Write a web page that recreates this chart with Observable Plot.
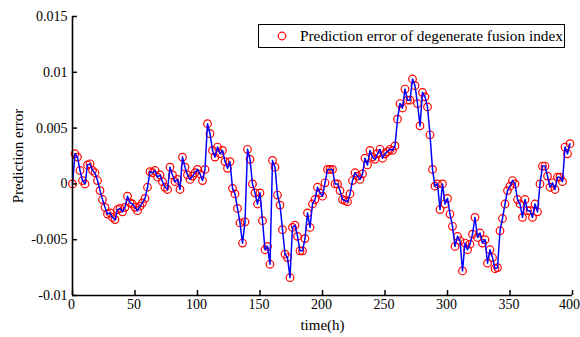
<!DOCTYPE html>
<html><head><meta charset="utf-8">
<script src="https://cdn.jsdelivr.net/npm/d3@7"></script>
<script src="https://cdn.jsdelivr.net/npm/@observablehq/plot@0.6"></script>
<style>
html,body{margin:0;padding:0;background:#fff;}
#wrap{position:relative;width:580px;height:337px;overflow:hidden;}
.legend{position:absolute;left:258px;top:24px;width:307px;height:24px;border:1px solid #000;background:#fff;box-sizing:border-box;font-family:"Liberation Serif","Times New Roman",serif;font-size:15.3px;color:#000;}
.legend svg{position:absolute;left:17px;top:5px;}
.legend span{position:absolute;left:41px;top:2px;white-space:nowrap;}
</style></head><body><div id="wrap"></div>
<script>
const hours = [
  0,2,4,6,8,10,12,14,16,18,
  20,22,24,26,28,30,32,34,36,38,
  40,42,44,46,48,50,52,54,56,58,
  60,62,64,66,68,70,72,74,76,78,
  80,82,84,86,88,90,92,94,96,98,
  100,102,104,106,108,110,112,114,116,118,
  120,122,124,126,128,130,132,134,136,138,
  140,142,144,146,148,150,152,154,156,158,
  160,162,164,166,168,170,172,174,176,178,
  180,182,184,186,188,190,192,194,196,198,
  200,202,204,206,208,210,212,214,216,218,
  220,222,224,226,228,230,232,234,236,238,
  240,242,244,246,248,250,252,254,256,258,
  260,262,264,266,268,270,272,274,276,278,
  280,282,284,286,288,290,292,294,296,298,
  300,302,304,306,308,310,312,314,316,318,
  320,322,324,326,328,330,332,334,336,338,
  340,342,344,346,348,350,352,354,356,358,
  360,362,364,366,368,370,372,374,376,378,
  380,382,384,386,388,390,392,394,396,398
];
// prediction error, in units of 1e-3
const errorMilli = [
  0, 2.7, 2.4, 1.2, 0.3, 0, 1.7, 1.8, 1.2, 1.0,
  0.3, -0.6, -1.4, -2.1, -2.7, -2.6, -3.0, -3.2, -2.3, -2.2,
  -2.5, -2.1, -1.1, -1.7, -1.8, -2.1, -2.4, -2.0, -1.7, -1.3,
  -0.3, 1.1, 1.0, 1.2, 0.6, 0.8, 0.2, -0.3, -0.5, 1.5,
  0.8, 0.2, 0.4, -0.5, 2.4, 1.5, 0.8, 0.4, 0.7, 1.0,
  1.3, 0.9, 0.3, 1.3, 5.4, 4.5, 3.0, 2.4, 3.3, 2.7,
  3.0, 2.0, 1.4, 2.0, -0.4, -0.9, -2.2, -3.5, -5.3, -3.4,
  3.1, 2.2, 0.0, -0.8, -1.8, -0.8, -3.3, -5.9, -5.6, -7.2,
  2.1, 1.5, -1.0, -1.9, -4.1, -6.3, -6.6, -8.4, -3.9, -3.7,
  -4.7, -6.0, -6.0, -4.9, -2.6, -3.9, -1.8, -1.4, -0.3, -0.8,
  -1.1, 0.1, 1.3, 1.3, 1.3, 0, 0, -0.6, -1.4, -1.5,
  -1.6, -0.9, 0.3, 1.0, 0.7, 0.4, 0.9, 2.3, 1.7, 3.0,
  2.4, 2.2, 2.7, 3.1, 2.3, 2.7, 2.9, 3.1, 3.0, 3.4,
  5.8, 7.2, 6.8, 8.5, 7.5, 7.5, 9.4, 8.8, 7.2, 5.2,
  8.2, 7.8, 6.9, 4.4, 1.3, -0.2, 0, -2.3, 0, -1.8,
  -1.3, -2.7, -3.8, -5.6, -4.7, -5.1, -7.8, -5.3, -5.9, -5.4,
  -4.5, -3.0, -4.8, -4.4, -5.3, -5.0, -7.1, -5.9, -6.6, -7.6,
  -7.5, -4.2, -3.1, -1.8, -0.6, -0.2, 0.3, 0, -1.4, -1.8,
  -3.0, -1.4, -2.4, -2.4, -3.0, -1.8, -2.5, 0, 1.6, 1.6,
  0.7, -0.3, 0.1, -0.5, 0.6, 0.6, 0.2, 3.3, 2.7, 3.6
];
const xTicks = [0, 50, 100, 150, 200, 250, 300, 350, 400];
const yTicks = [-0.01, -0.005, 0, 0.005, 0.01, 0.015];
const yTickLabels = ["-0.01", "-0.005", "0", "0.005", "0.01", "0.015"];
const xTitle = "time(h)";
const yTitle = "Prediction error";
const seriesName = "Prediction error of degenerate fusion index";

const data = hours.map((t, i) => ({t, e: errorMilli[i] / 1000}));
const font = '"Liberation Serif", "Times New Roman", serif';
const xMax = xTicks[xTicks.length - 1];

const chart = Plot.plot({
  width: 580, height: 337,
  marginLeft: 72, marginRight: 8, marginTop: 16, marginBottom: 42,
  style: {fontFamily: font, fontSize: "14px", color: "#000", background: "#fff", overflow: "visible"},
  x: {domain: [0, 400]},
  y: {domain: [-0.01, 0.015]},
  marks: [
    Plot.dot(data, {x: "t", y: "e", r: 3.8, stroke: "#ff0000", strokeWidth: 1.2, fill: "none"}),
    Plot.line(data, {x: "t", y: "e", stroke: "#0000ff", strokeWidth: 1.5}),
    Plot.ruleX([0], {stroke: "#000", strokeWidth: 1.6}),
    Plot.ruleY([-0.01], {stroke: "#000", strokeWidth: 1.6}),
    Plot.axisX(xTicks.filter(d => d !== xMax), {tickSize: 0, tickPadding: 4, label: null, dx: -1}),
    Plot.axisX([xMax], {tickSize: 0, tickPadding: 4, label: null, dx: -3}),
    Plot.axisX([], {label: xTitle, labelAnchor: "center", labelOffset: 34, labelArrow: "none", fontSize: 15}),
    Plot.axisX(xTicks, {tickSize: -5, tickFormat: () => "", label: null, strokeWidth: 1.5}),
    Plot.axisY(yTicks, {tickSize: 0, tickPadding: 5, tickFormat: (d, i) => yTickLabels[i], label: null}),
    Plot.axisY([], {label: yTitle, labelAnchor: "center", labelOffset: 60, labelArrow: "none", fontSize: 15}),
    Plot.axisY(yTicks, {tickSize: -5, tickFormat: () => "", label: null, strokeWidth: 1.5})
  ]
});

const wrap = document.getElementById("wrap");
wrap.appendChild(chart);
const legend = document.createElement("div");
legend.className = "legend";
legend.innerHTML = '<svg width="12" height="12"><circle cx="6" cy="6" r="3.8" fill="none" stroke="#ff0000" stroke-width="1.2"/></svg><span></span>';
legend.querySelector("span").textContent = seriesName;
wrap.appendChild(legend);
</script></body></html>
